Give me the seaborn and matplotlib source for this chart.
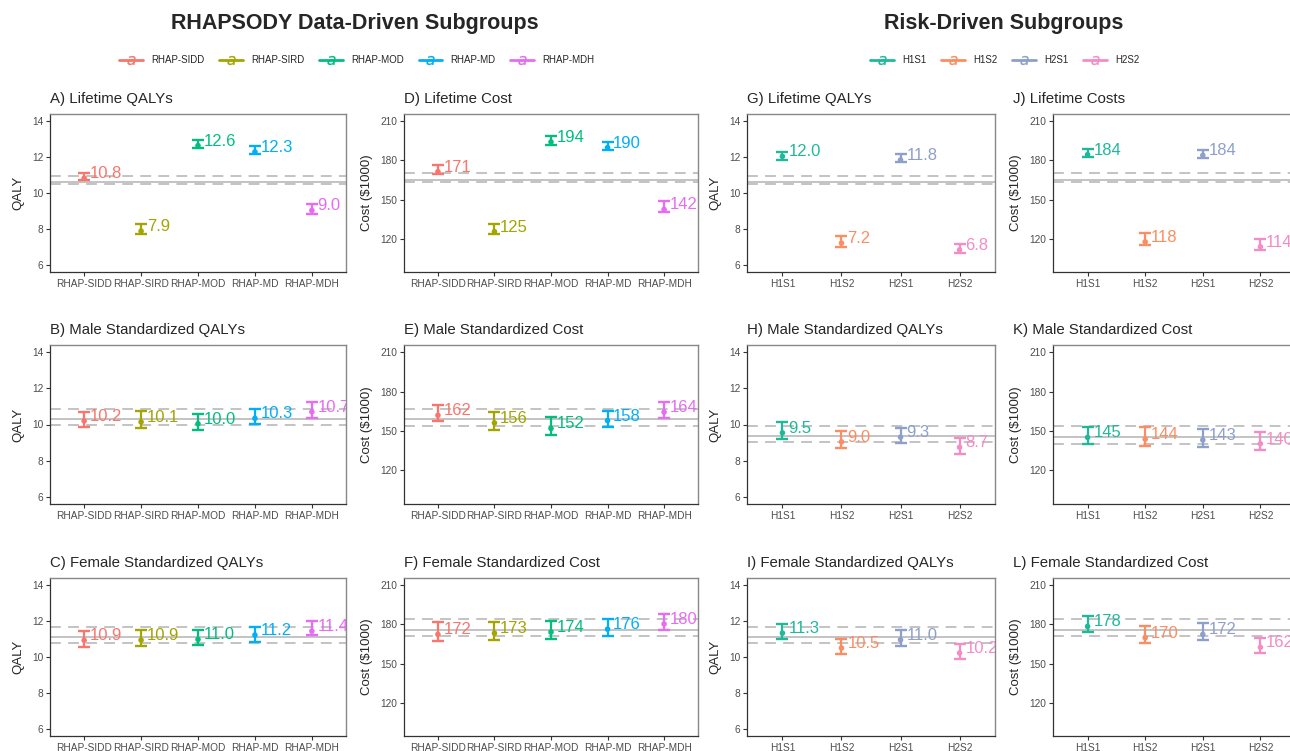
import numpy as np
import pandas as pd
import seaborn as sns
import matplotlib.pyplot as plt
from matplotlib.lines import Line2D

rhap_groups = ["RHAP-SIDD", "RHAP-SIRD", "RHAP-MOD", "RHAP-MD", "RHAP-MDH"]
risk_groups = ["H1S1", "H1S2", "H2S1", "H2S2"]

rhap_colors = ["#F8766D", "#A3A500", "#00BF7D", "#00B0F6", "#E76BF3"]
risk_colors = ["#1FB99A", "#FC8D62", "#8DA0CB", "#F48CC6"]

# RHAPSODY subgroups: mean, lower, upper
a_mean = [10.82, 7.88, 12.64, 12.29, 9.03]
a_lo = [10.74, 7.73, 12.49, 12.20, 8.83]
a_hi = [11.12, 8.25, 12.94, 12.59, 9.37]

b_mean = [10.20, 10.14, 10.04, 10.34, 10.70]
b_lo = [9.87, 9.78, 9.69, 10.02, 10.37]
b_hi = [10.70, 10.74, 10.57, 10.85, 11.22]

c_mean = [10.93, 10.94, 10.98, 11.22, 11.44]
c_lo = [10.54, 10.59, 10.69, 10.83, 11.20]
c_hi = [11.44, 11.48, 11.52, 11.67, 12.00]

d_mean = [171.3, 125.4, 194.1, 189.8, 142.4]
d_lo = [169.3, 123.3, 191.8, 188.3, 140.2]
d_hi = [176.5, 131.0, 198.5, 194.1, 148.9]

e_mean = [162.0, 156.2, 152.0, 158.0, 164.4]
e_lo = [157.7, 150.8, 147.0, 152.9, 159.7]
e_hi = [170.2, 164.8, 160.5, 165.6, 172.5]

f_mean = [172.3, 173.2, 174.1, 176.3, 180.3]
f_lo = [167.3, 167.8, 169.0, 171.3, 175.4]
f_hi = [181.5, 182.0, 182.3, 184.0, 188.1]

# risk-driven subgroups
g_mean = [12.04, 7.21, 11.84, 6.83]
g_lo = [11.86, 7.02, 11.73, 6.67]
g_hi = [12.31, 7.58, 12.16, 7.17]

h_mean = [9.54, 9.04, 9.30, 8.74]
h_lo = [9.22, 8.69, 8.98, 8.39]
h_hi = [10.13, 9.63, 9.83, 9.26]

i_mean = [11.33, 10.50, 10.96, 10.22]
i_lo = [11.02, 10.15, 10.63, 9.87]
i_hi = [11.85, 11.02, 11.48, 10.70]

j_mean = [184.4, 117.6, 183.9, 113.8]
j_lo = [182.6, 115.1, 181.9, 111.0]
j_hi = [188.8, 124.3, 188.3, 119.7]

k_mean = [145.2, 143.9, 143.2, 140.4]
k_lo = [140.1, 138.9, 138.1, 135.5]
k_hi = [152.9, 153.1, 151.3, 149.5]

l_mean = [178.4, 169.8, 172.3, 162.4]
l_lo = [173.9, 165.7, 167.8, 158.1]
l_hi = [186.6, 178.4, 181.0, 169.8]

# overall population reference: lower, mean, upper
ref_qaly_life = [10.48, 10.59, 10.93]
ref_cost_life = [163.7, 165.2, 170.3]
ref_qaly_male_rhap = [9.98, 10.31, 10.85]
ref_cost_male_rhap = [154.1, 159.0, 167.1]
ref_qaly_male_risk = [9.02, 9.37, 9.93]
ref_cost_male_risk = [140.4, 145.2, 154.1]
ref_qaly_female = [10.80, 11.13, 11.65]
ref_cost_female = [171.0, 175.9, 184.3]

sns.set_theme(style="white")
plt.rcParams["font.family"] = ["Liberation Sans", "DejaVu Sans"]

W, H = 1290, 751
fig = plt.figure(figsize=(W / 100, H / 100), dpi=100)

col_x = [(50, 346), (404, 698), (747, 995), (1053, 1295)]
row_y = [(114, 272), (345, 504), (578, 736)]


def make_ax(col, row):
    x0, x1 = col_x[col]
    y0, y1 = row_y[row]
    return fig.add_axes([x0 / W, 1 - y1 / H, (x1 - x0) / W, (y1 - y0) / H])


def draw_panel(ax, groups, colors, mean, lo, hi, ref, title, kind, title_x=0.0):
    df = pd.DataFrame({"group": groups, "mean": mean, "lo": lo, "hi": hi})
    df["x"] = np.arange(len(df))
    pal = dict(zip(groups, colors))

    ax.axhline(ref[1], color="#BEBEBE", lw=1.3, zorder=1)
    ax.axhline(ref[0], color="#BEBEBE", lw=1.3, ls=(0, (6, 4)), zorder=1)
    ax.axhline(ref[2], color="#BEBEBE", lw=1.3, ls=(0, (6, 4)), zorder=1)

    for _, r in df.iterrows():
        ax.errorbar(r["x"], r["mean"], yerr=[[r["mean"] - r["lo"]], [r["hi"] - r["mean"]]],
                    fmt="none", ecolor=pal[r["group"]], elinewidth=1.6, capsize=4,
                    capthick=1.7, zorder=3)
        lab = f"{r['mean']:.1f}" if kind == "qaly" else f"{r['mean']:.0f}"
        ax.text(r["x"] + 0.1, r["mean"], lab, color=pal[r["group"]], fontsize=12,
                ha="left", va="baseline", clip_on=True, zorder=4)

    sns.scatterplot(data=df, x="x", y="mean", hue="group", palette=pal, s=16,
                    edgecolor="none", legend=False, ax=ax, zorder=5)

    n = len(groups)
    ax.set_xlim(-0.6, n - 0.4)
    ax.set_xticks(range(n))
    ax.set_xticklabels(groups)
    ax.set_xlabel("")
    if kind == "qaly":
        ax.set_ylim(5.6, 14.4)
        ax.set_yticks([6, 8, 10, 12, 14])
        ax.set_ylabel("QALY", fontsize=9.5, labelpad=5)
    else:
        ax.set_ylim(94.5, 215.5)
        ax.set_yticks([120, 150, 180, 210])
        ax.set_ylabel("Cost ($1000)", fontsize=9.5, labelpad=5)

    ax.tick_params(axis="both", length=3, width=0.8, color="#333333",
                   labelcolor="#4D4D4D", labelsize=7.3, pad=2, direction="out")
    ax.tick_params(left=True, bottom=True)
    for s in ["top", "right"]:
        ax.spines[s].set_color("#888888")
        ax.spines[s].set_linewidth(1.0)
    for s in ["left", "bottom"]:
        ax.spines[s].set_color("#333333")
        ax.spines[s].set_linewidth(0.9)
    t = ax.set_title(title, loc="left", fontsize=10.8, pad=8)
    t.set_x(title_x)


draw_panel(make_ax(0, 0), rhap_groups, rhap_colors, a_mean, a_lo, a_hi, ref_qaly_life,
           "A) Lifetime QALYs", "qaly")
draw_panel(make_ax(0, 1), rhap_groups, rhap_colors, b_mean, b_lo, b_hi, ref_qaly_male_rhap,
           "B) Male Standardized QALYs", "qaly")
draw_panel(make_ax(0, 2), rhap_groups, rhap_colors, c_mean, c_lo, c_hi, ref_qaly_female,
           "C) Female Standardized QALYs", "qaly")
draw_panel(make_ax(1, 0), rhap_groups, rhap_colors, d_mean, d_lo, d_hi, ref_cost_life,
           "D) Lifetime Cost", "cost")
draw_panel(make_ax(1, 1), rhap_groups, rhap_colors, e_mean, e_lo, e_hi, ref_cost_male_rhap,
           "E) Male Standardized Cost", "cost")
draw_panel(make_ax(1, 2), rhap_groups, rhap_colors, f_mean, f_lo, f_hi, ref_cost_female,
           "F) Female Standardized Cost", "cost")
draw_panel(make_ax(2, 0), risk_groups, risk_colors, g_mean, g_lo, g_hi, ref_qaly_life,
           "G) Lifetime QALYs", "qaly")
draw_panel(make_ax(2, 1), risk_groups, risk_colors, h_mean, h_lo, h_hi, ref_qaly_male_risk,
           "H) Male Standardized QALYs", "qaly")
draw_panel(make_ax(2, 2), risk_groups, risk_colors, i_mean, i_lo, i_hi, ref_qaly_female,
           "I) Female Standardized QALYs", "qaly")
draw_panel(make_ax(3, 0), risk_groups, risk_colors, j_mean, j_lo, j_hi, ref_cost_life,
           "J) Lifetime Costs", "cost", title_x=-0.165)
draw_panel(make_ax(3, 1), risk_groups, risk_colors, k_mean, k_lo, k_hi, ref_cost_male_risk,
           "K) Male Standardized Cost", "cost", title_x=-0.165)
draw_panel(make_ax(3, 2), risk_groups, risk_colors, l_mean, l_lo, l_hi, ref_cost_female,
           "L) Female Standardized Cost", "cost", title_x=-0.165)

fig.text(355 / W, 1 - 23 / H, "RHAPSODY Data-Driven Subgroups", ha="center", va="center",
         fontsize=15.5, weight="bold")
fig.text(1004 / W, 1 - 23 / H, "Risk-Driven Subgroups", ha="center", va="center",
         fontsize=15.5, weight="bold")


def legend_handles(groups, colors):
    return [Line2D([0], [0], color=c, lw=2, marker=r"$a$", markersize=6.5,
                   markeredgewidth=0.2, label=g) for g, c in zip(groups, colors)]


for groups, colors, cx in [(rhap_groups, rhap_colors, 357), (risk_groups, risk_colors, 1005)]:
    fig.legend(handles=legend_handles(groups, colors), loc="center",
               bbox_to_anchor=(cx / W, 1 - 60 / H), ncol=len(groups), frameon=False,
               fontsize=7, handlelength=2.4, handletextpad=0.9, columnspacing=1.5)

fig.savefig("out.png", dpi=100)
